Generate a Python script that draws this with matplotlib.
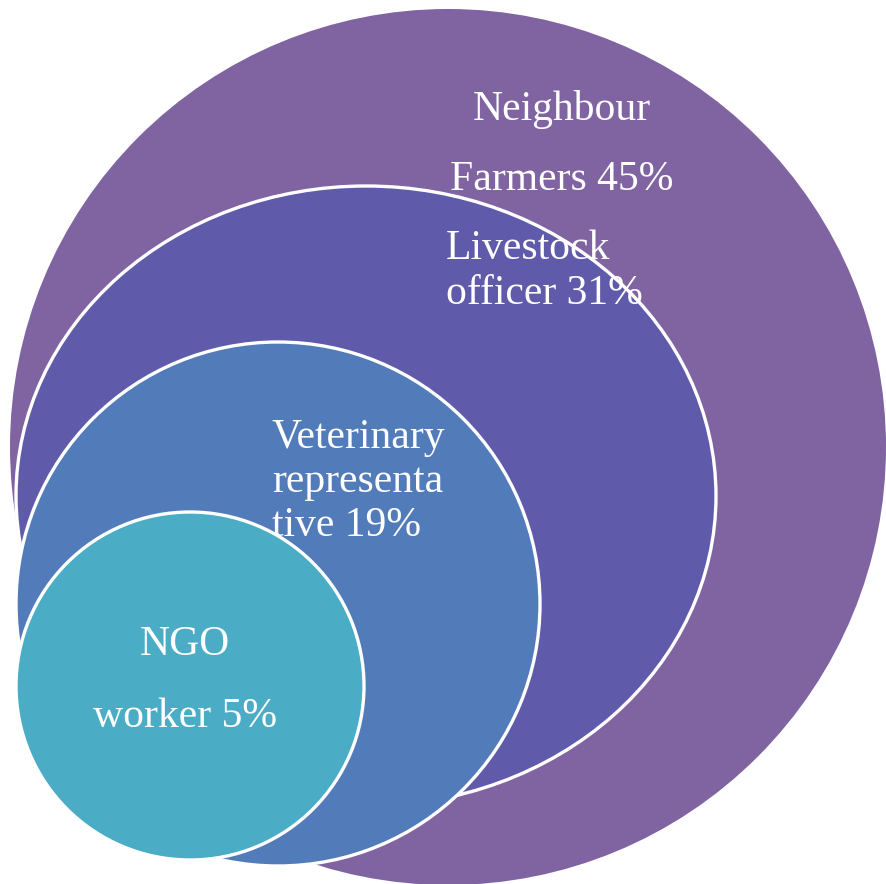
from matplotlib import pyplot as plt
from matplotlib.patches import Ellipse

# data
groups = ['Neighbour Farmers', 'Livestock officer', 'Veterinary representative', 'NGO worker']
shares = [45, 31, 19, 5]
label_lines = [
	['Neighbour', 'Farmers 45%'],
	['Livestock', 'officer 31%'],
	['Veterinary', 'representa', 'tive 19%'],
	['NGO', 'worker 5%'],
]
colors = ['#8064A2', '#5F5AAA', '#527BBA', '#4BACC6']

# layout in pixel space (x, y, width, height), outer to inner
shapes = [(448, 447, 876, 876), (366, 496, 700, 620), (278, 604, 524, 524), (190, 686, 348, 348)]
# text anchors: x, first baseline, line step, alignment
anchors = [(562, 120, 70, 'center'), (446, 259, 45, 'left'), (272, 448, 44, 'left'), (185, 655, 72, 'center')]

fig = plt.figure(figsize=(8.86, 8.84), dpi=100)
ax = fig.add_axes([0, 0, 1, 1])
ax.set_xlim(0, 886)
ax.set_ylim(884, 0)
ax.set_aspect('equal')
ax.axis('off')

for i, (cx, cy, w, h) in enumerate(shapes):
	lw = 0 if i == 0 else 2.4
	ax.add_patch(Ellipse((cx, cy), w, h, facecolor=colors[i], edgecolor='white', linewidth=lw, zorder=i+1))

for i, lines in enumerate(label_lines):
	x, y0, step, ha = anchors[i]
	for j, line in enumerate(lines):
		ax.text(x, y0 + j*step, line, ha=ha, va='baseline', color='white',
			fontsize=30, family='Liberation Serif', zorder=10)

plt.savefig('out.png', dpi=100)
